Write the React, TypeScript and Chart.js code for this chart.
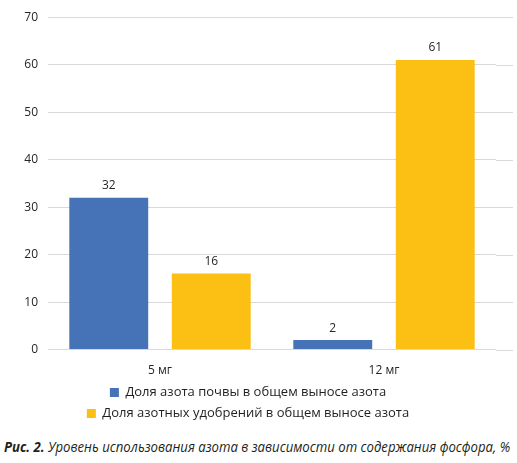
import React, { useEffect, useRef } from "react";
import { Chart, registerables } from "chart.js";

Chart.register(...registerables);

const categories = ["5 мг", "12 мг"];
const soilShare = [32, 2];
const fertShare = [16, 61];
const seriesNames = [
  "Доля азота почвы в общем выносе азота",
  "Доля азотных удобрений в общем выносе азота",
];
const yTicks = [0, 10, 20, 30, 40, 50, 60, 70];

const valueLabels = {
  id: "valueLabels",
  afterDatasetsDraw(chart: any) {
    const ctx = chart.ctx;
    ctx.save();
    ctx.font = "12px 'Open Sans', sans-serif";
    ctx.fillStyle = "#262626";
    ctx.textAlign = "center";
    ctx.textBaseline = "bottom";
    chart.data.datasets.forEach((ds: any, i: number) => {
      const meta = chart.getDatasetMeta(i);
      meta.data.forEach((el: any, j: number) => {
        ctx.fillText(String(ds.data[j]), el.x, el.y - 6);
      });
    });
    ctx.restore();
  },
};

const extendGrid = {
  id: "extendGrid",
  beforeDatasetsDraw(chart: any) {
    const ctx = chart.ctx;
    const y = chart.scales.y;
    const area = chart.chartArea;
    ctx.save();
    ctx.strokeStyle = "#d9d9d9";
    ctx.lineWidth = 1;
    y.ticks.forEach((t: any) => {
      const py = Math.round(y.getPixelForValue(t.value)) + 0.5;
      ctx.beginPath();
      ctx.moveTo(area.right, py);
      ctx.lineTo(area.right + 17, py);
      ctx.stroke();
    });
    ctx.restore();
  },
};

export default function App() {
  const ref = useRef<HTMLCanvasElement>(null);
  const capRef = useRef<HTMLDivElement>(null);
  useEffect(() => {
    const cap = capRef.current;
    if (cap) {
      const w = cap.scrollWidth;
      if (w > 0) cap.style.transform = `scaleX(${506 / w})`;
    }
    const chart = new Chart(ref.current!, {
      type: "bar",
      data: {
        labels: categories,
        datasets: [
          { label: seriesNames[0], data: soilShare, backgroundColor: "#4672B8" },
          { label: seriesNames[1], data: fertShare, backgroundColor: "#FCBF13" },
        ],
      },
      options: {
        animation: false,
        responsive: false,
        devicePixelRatio: 1,
        layout: { padding: { left: 0, right: 21, top: 17, bottom: 0 } },
        datasets: { bar: { barPercentage: 0.77, categoryPercentage: 0.915 } } as any,
        scales: {
          x: {
            grid: { display: false },
            border: { display: false },
            afterFit(s: any) { s.height = s.height - 6; },
            ticks: { color: "#262626", font: { family: "'Open Sans', sans-serif", size: 12 }, padding: 6 },
          },
          y: {
            min: 0,
            max: 70,
            afterFit(s: any) { s.width = 48; },
            afterBuildTicks(s: any) { s.ticks = yTicks.map((v) => ({ value: v })); },
            grid: { color: "#d9d9d9", drawTicks: false },
            border: { display: false },
            ticks: { color: "#262626", font: { family: "'Open Sans', sans-serif", size: 12 }, padding: 10 },
          },
        },
        plugins: {
          legend: {
            position: "bottom",
            labels: {
              boxWidth: 9,
              boxHeight: 9,
              color: "#1f1f1f",
              font: { family: "'Open Sans', sans-serif", size: 13 },
              padding: 8,
            },
          },
          tooltip: { enabled: false },
        },
      },
      plugins: [valueLabels, extendGrid],
    });
    return () => chart.destroy();
  }, []);
  return (
    <div style={{ position: "absolute", left: 0, top: 0, width: 517, height: 463, background: "#fff" }}>
      <canvas ref={ref} width={517} height={430} style={{ display: "block" }} />
      <div
        ref={capRef}
        style={{
          position: "absolute",
          left: 4,
          top: 438,
          fontFamily: "'Open Sans', sans-serif",
          fontStyle: "italic",
          fontSize: 14,
          lineHeight: "18px",
          color: "#231f20",
          whiteSpace: "nowrap",
          transformOrigin: "left top",
        }}
      >
        <b>Рис. 2.</b> Уровень использования азота в зависимости от содержания фосфора, %
      </div>
    </div>
  );
}
